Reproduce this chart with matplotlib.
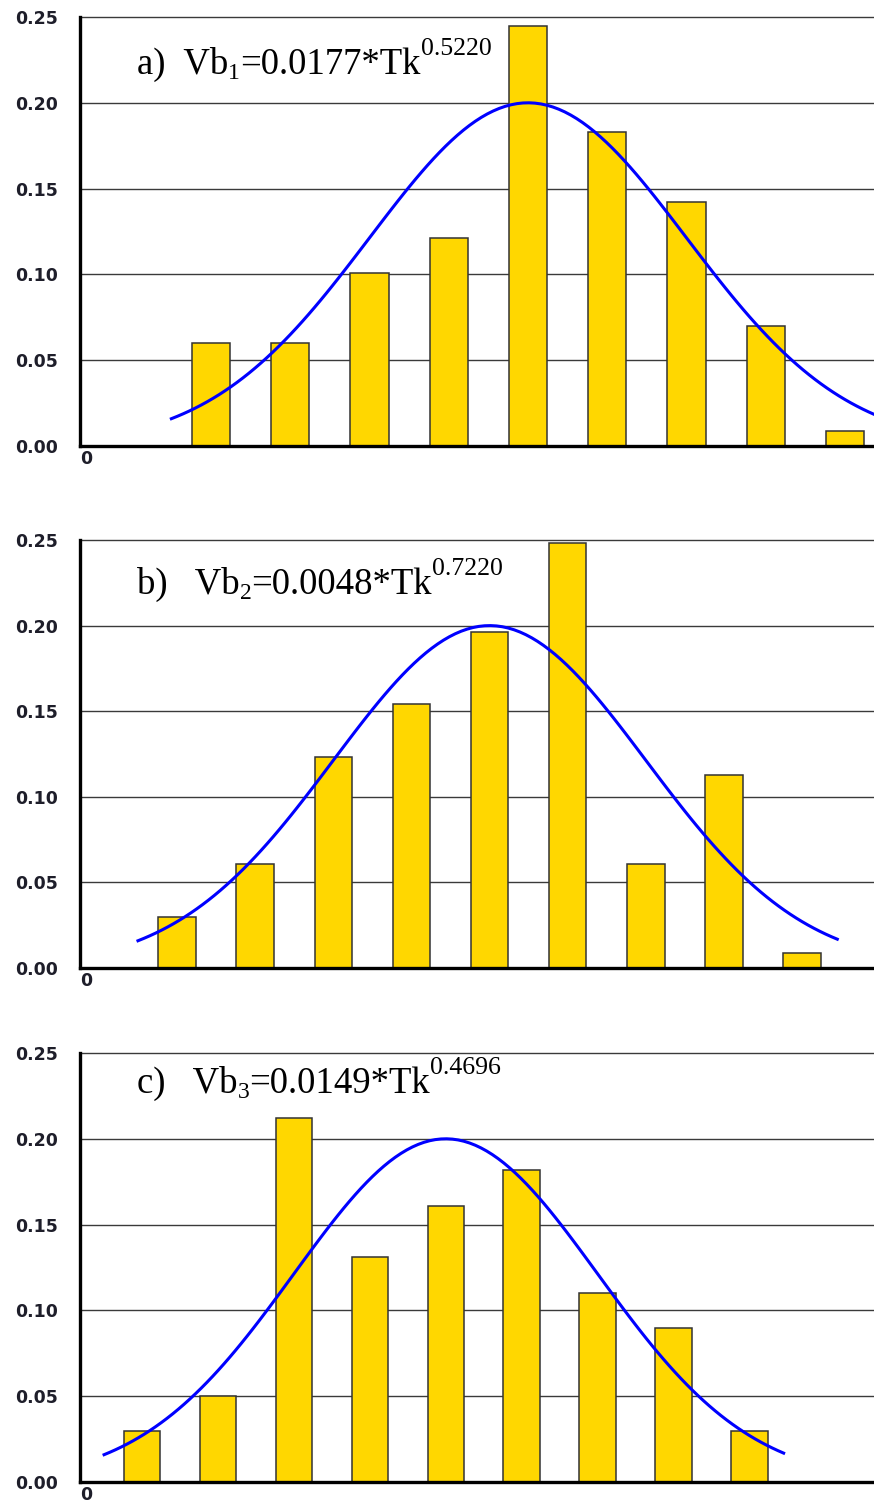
import numpy as np
import matplotlib
matplotlib.use("Agg")
import matplotlib.pyplot as plt

# Relative frequencies of the nine classes in each panel
classes = [1, 2, 3, 4, 5, 6, 7, 8, 9]
freq_a = [0.060, 0.060, 0.101, 0.121, 0.245, 0.183, 0.142, 0.070, 0.009]
freq_b = [0.030, 0.061, 0.123, 0.154, 0.196, 0.248, 0.061, 0.113, 0.009]
freq_c = [0.030, 0.050, 0.212, 0.131, 0.161, 0.182, 0.110, 0.090, 0.030]

# Fitted normal curve parameters (mean, sd, peak height, x-range)
fit_mean = 5.0
fit_sd = 2.0
fit_peak = 0.20
fit_range = (0.5, 9.45)

y_ticks = [0.00, 0.05, 0.10, 0.15, 0.20, 0.25]
y_tick_labels = ["0.00", "0.05", "0.10", "0.15", "0.20", "0.25"]

# Equation labels: (prefix, subscript, middle, superscript)
labels = [
    ("a)  Vb", "1", "=0.0177*Tk", "0.5220"),
    ("b)   Vb", "2", "=0.0048*Tk", "0.7220"),
    ("c)   Vb", "3", "=0.0149*Tk", "0.4696"),
]

W, H = 874, 1503
fig = plt.figure(figsize=(W / 100, H / 100), dpi=100)

# axes placement in pixels: (top, bottom), x-limits in class units, label baseline
panels = [
    (freq_a, 17, 446, (-0.653, 9.366), 74),
    (freq_b, 540, 968, (-0.242, 9.92), 594),
    (freq_c, 1053, 1482, (0.183, 10.64), 1093),
]
left_px = 80
bar_width = 0.48

tick_font = dict(family="DejaVu Sans", weight="bold", size=12.5, color="#1e1e2a")

xs = np.linspace(fit_range[0], fit_range[1], 120)
curve = fit_peak * np.exp(-0.5 * ((xs - fit_mean) / fit_sd) ** 2)

for freq, top, bot, xlim, _ in panels:
    ax = fig.add_axes([left_px / W, 1 - bot / H, 1 - left_px / W, (bot - top) / H])
    ax.set_xlim(*xlim)
    ax.set_ylim(0, 0.25)
    for v in y_ticks[1:]:
        ax.axhline(v, color="#3a3a3a", lw=1.0, zorder=1, clip_on=False)
    ax.bar(classes, freq, width=bar_width, color="#FFD700",
           edgecolor="#333333", linewidth=1.1, zorder=2)
    ax.plot(xs, curve, color="#0000FF", lw=2.2, zorder=3)
    for s in ("top", "right"):
        ax.spines[s].set_visible(False)
    for s in ("left", "bottom"):
        ax.spines[s].set_linewidth(2.4)
        ax.spines[s].set_color("black")
        ax.spines[s].set_zorder(4)
    ax.set_yticks(y_ticks)
    ax.set_yticklabels(y_tick_labels, fontdict=tick_font)
    ax.tick_params(axis="y", length=0, pad=16)
    ax.set_xticks([])
    ax.text(0.0, -0.01, "0", transform=ax.transAxes, ha="left", va="top",
            **tick_font)

fig.canvas.draw()
renderer = fig.canvas.get_renderer()


def put_runs(x_px, base_px, runs):
    """Place text runs side by side; each run is (text, size, baseline shift px)."""
    x = x_px
    for txt, size, dy in runs:
        t = fig.text(x / W, 1 - (base_px - dy) / H, txt, family="Liberation Serif",
                     size=size, ha="left", va="baseline", color="black")
        bb = t.get_window_extent(renderer)
        x = bb.x1


for (pre, sub, mid, sup), (_, _, _, _, base) in zip(labels, panels):
    put_runs(137, base, [
        (pre, 26.5, 0),
        (sub, 17, -5),
        (mid, 26.5, 0),
        (sup, 18.5, 19),
    ])

fig.savefig("out.png", dpi=100)
